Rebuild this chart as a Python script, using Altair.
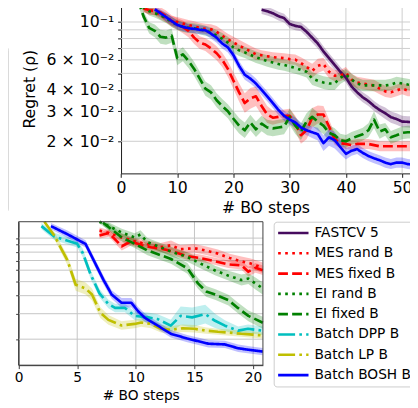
import altair as alt
import pandas as pd

# ---------------- series definitions ----------------
SERIES = ["FASTCV 5", "MES rand B", "MES fixed B", "EI rand B", "EI fixed B",
          "Batch DPP B", "Batch LP B", "Batch BOSH B"]
COLORS = ["#460b5e", "#ff0000", "#ff0000", "#008000", "#008000",
          "#00bfbf", "#bfbf00", "#0000ff"]
DASHES = [[1, 0], [2.7, 4.5], [10, 4.3], [2.7, 4.5], [10, 4.3],
          [17.3, 4.3, 2.7, 4.3], [17.3, 4.3, 2.7, 4.3], [1, 0]]

# ---------------- top panel data (x = BO step) ----------------
TOP_STEPS_FASTCV = list(range(25, 53))
TOP_FASTCV = [0.118, 0.1156, 0.1126, 0.1082, 0.1054, 0.0974, 0.0949, 0.0936, 0.0876, 0.0810,
              0.0748, 0.0673, 0.0614, 0.0560, 0.0511, 0.0472, 0.0419, 0.0387, 0.0362, 0.0344,
              0.0322, 0.0305, 0.0292, 0.0277, 0.0270, 0.0261, 0.0260, 0.0258]
TOP_FASTCV_ERR = [0.06, 0.06, 0.06, 0.06, 0.06, 0.06, 0.06, 0.06, 0.07, 0.07,
                  0.07, 0.07, 0.07, 0.07, 0.07, 0.07, 0.07, 0.07, 0.07, 0.07,
                  0.07, 0.07, 0.08, 0.08, 0.08, 0.08, 0.08, 0.08]

TOP_STEPS_MES = list(range(4, 53))
TOP_MES_RAND = [0.1203, 0.1171, 0.1156, 0.1096, 0.1054, 0.1013, 0.1, 0.098, 0.0961, 0.0943,
                0.0924, 0.0912, 0.0906, 0.0876, 0.0832, 0.0789, 0.0758, 0.0729, 0.070, 0.0673,
                0.0647, 0.0638, 0.0630, 0.0622, 0.0618, 0.0614, 0.0606, 0.0602, 0.0575, 0.0546,
                0.0518, 0.0553, 0.0567, 0.0511, 0.0485, 0.0485, 0.0504, 0.0460, 0.0442, 0.0436,
                0.0430, 0.0425, 0.0407, 0.0392, 0.0387, 0.0397, 0.0407, 0.0397, 0.0397]
TOP_MES_RAND_ERR = [0.05, 0.05, 0.06, 0.06, 0.06, 0.07, 0.07, 0.07, 0.07, 0.07,
                    0.07, 0.07, 0.07, 0.08, 0.08, 0.08, 0.08, 0.08, 0.08, 0.08,
                    0.08, 0.07, 0.07, 0.07, 0.07, 0.07, 0.07, 0.07, 0.08, 0.09,
                    0.10, 0.10, 0.09, 0.09, 0.08, 0.08, 0.08, 0.08, 0.08, 0.08,
                    0.08, 0.08, 0.08, 0.08, 0.08, 0.08, 0.08, 0.08, 0.08]
TOP_MES_FIXED = [0.1203, 0.1171, 0.1164, 0.1141, 0.1082, 0.1013, 0.0974, 0.0936, 0.0888, 0.081,
                 0.0758, 0.0738, 0.070, 0.0656, 0.060, 0.0531, 0.0453, 0.0387, 0.0335, 0.0357,
                 0.0367, 0.0322, 0.0287, 0.0275, 0.0278, 0.0282, 0.0282, 0.0254, 0.0217, 0.0232,
                 0.0275, 0.0287, 0.0287, 0.0244, 0.0206, 0.0195, 0.0193, 0.0190, 0.0193, 0.0193,
                 0.0193, 0.0190, 0.0187, 0.0187, 0.0187, 0.0187, 0.0187, 0.0187, 0.0187]
TOP_MES_FIXED_ERR = [0.05, 0.06, 0.06, 0.07, 0.08, 0.08, 0.08, 0.09, 0.09, 0.09,
                     0.09, 0.09, 0.10, 0.10, 0.10, 0.11, 0.12, 0.13, 0.14, 0.15,
                     0.14, 0.13, 0.12, 0.10, 0.09, 0.09, 0.10, 0.11, 0.12, 0.13,
                     0.14, 0.13, 0.12, 0.10, 0.08, 0.07, 0.07, 0.07, 0.07, 0.07,
                     0.07, 0.07, 0.07, 0.07, 0.07, 0.07, 0.07, 0.07, 0.07]

TOP_STEPS_EI = list(range(3, 53))
TOP_EI_RAND = [0.1318, 0.1219, 0.1156, 0.1126, 0.1096, 0.1054, 0.1, 0.0961, 0.0936, 0.0924,
               0.0919, 0.0906, 0.0888, 0.0871, 0.0832, 0.0799, 0.0758, 0.0710, 0.0682, 0.0664,
               0.0643, 0.0622, 0.0606, 0.0591, 0.0579, 0.0567, 0.0560, 0.0549, 0.0538, 0.0524,
               0.0511, 0.0466, 0.0453, 0.0442, 0.0436, 0.0436, 0.0472, 0.0491, 0.0460, 0.0436,
               0.0425, 0.0425, 0.0425, 0.0425, 0.0425, 0.0430, 0.0442, 0.0436, 0.0430, 0.0425]
TOP_EI_RAND_ERR = [0.05, 0.05, 0.06, 0.06, 0.07, 0.07, 0.07, 0.07, 0.07, 0.07,
                   0.07, 0.07, 0.07, 0.07, 0.08, 0.08, 0.08, 0.08, 0.08, 0.08,
                   0.08, 0.08, 0.08, 0.08, 0.08, 0.08, 0.08, 0.08, 0.08, 0.08,
                   0.08, 0.09, 0.09, 0.09, 0.09, 0.09, 0.09, 0.08, 0.08, 0.08,
                   0.08, 0.08, 0.08, 0.08, 0.08, 0.08, 0.08, 0.08, 0.08, 0.08]
TOP_EI_FIXED = [0.135, 0.108, 0.0924, 0.0888, 0.082, 0.081, 0.0832, 0.0614, 0.0647, 0.0591,
                0.0531, 0.0466, 0.0407, 0.0387, 0.0348, 0.0322, 0.030, 0.0271, 0.0247, 0.0232,
                0.0258, 0.0235, 0.0254, 0.0241, 0.0238, 0.0241, 0.0244, 0.0278, 0.0247, 0.0228,
                0.0261, 0.0278, 0.0261, 0.0247, 0.0224, 0.0217, 0.0203, 0.020, 0.0208, 0.0214,
                0.022, 0.0232, 0.0268, 0.0228, 0.0235, 0.0211, 0.0217, 0.0224, 0.0226, 0.0226]
TOP_EI_FIXED_ERR = [0.06, 0.07, 0.08, 0.09, 0.10, 0.10, 0.10, 0.10, 0.10, 0.10,
                    0.10, 0.10, 0.10, 0.10, 0.10, 0.10, 0.10, 0.11, 0.11, 0.11,
                    0.11, 0.11, 0.11, 0.11, 0.11, 0.11, 0.11, 0.12, 0.12, 0.12,
                    0.12, 0.13, 0.13, 0.12, 0.11, 0.10, 0.09, 0.09, 0.09, 0.09,
                    0.09, 0.10, 0.12, 0.10, 0.09, 0.09, 0.09, 0.09, 0.09, 0.09]

TOP_STEPS_BOSH = list(range(6, 53))
TOP_BOSH = [0.1187, 0.1126, 0.1068, 0.1013, 0.0961, 0.0936, 0.0919, 0.0912, 0.090, 0.0894,
            0.0854, 0.081, 0.0748, 0.071, 0.0639, 0.0553, 0.0491, 0.0466, 0.0436, 0.040,
            0.0367, 0.0335, 0.0305, 0.0282, 0.0268, 0.0258, 0.0241, 0.0232, 0.0226, 0.022,
            0.0195, 0.0211, 0.0203, 0.0185, 0.0169, 0.0176, 0.0180, 0.0171, 0.0164, 0.0159,
            0.0155, 0.0150, 0.0147, 0.0150, 0.0150, 0.0147, 0.0146]
TOP_BOSH_ERR = [0.05, 0.05, 0.06, 0.06, 0.06, 0.06, 0.06, 0.06, 0.06, 0.06,
                0.07, 0.07, 0.07, 0.07, 0.07, 0.07, 0.07, 0.07, 0.07, 0.07,
                0.07, 0.07, 0.07, 0.07, 0.07, 0.07, 0.07, 0.07, 0.08, 0.09,
                0.11, 0.12, 0.12, 0.10, 0.08, 0.07, 0.07, 0.07, 0.07, 0.07,
                0.07, 0.07, 0.07, 0.07, 0.07, 0.07, 0.07]

# ---------------- bottom panel data ----------------
BOT_BOSH_X = [2.76, 4.16, 5.71, 7.24, 7.94, 8.78, 9.62, 10.18, 10.75, 11.87, 12.98, 14.39,
              16.2, 17.6, 18.73, 19.85, 20.83]
BOT_BOSH = [0.121, 0.1064, 0.0911, 0.0514, 0.0407, 0.0357, 0.0357, 0.0313, 0.0282, 0.0248,
            0.0218, 0.0202, 0.0186, 0.0184, 0.0173, 0.0168, 0.0164]
BOT_BOSH_ERR = [0.05, 0.06, 0.06, 0.07, 0.07, 0.08, 0.08, 0.07, 0.07, 0.06, 0.06, 0.06,
                0.06, 0.06, 0.06, 0.06, 0.06]

BOT_DPP_X = [1.95, 3.04, 5.0, 5.48, 6.15, 6.9, 7.66, 8.23, 9.07, 9.9, 11.03, 11.87, 12.98,
             13.82, 14.8, 15.92, 16.76, 17.6, 18.73, 19.57, 20.83]
BOT_DPP = [0.121, 0.1027, 0.0913, 0.0788, 0.0559, 0.0415, 0.035, 0.0329, 0.0329, 0.029,
           0.0283, 0.0275, 0.0248, 0.029, 0.0283, 0.0298, 0.0268, 0.0248, 0.0229, 0.0236, 0.0229]
BOT_DPP_ERR = [0.05, 0.06, 0.06, 0.07, 0.07, 0.07, 0.07, 0.07, 0.07, 0.07, 0.08, 0.08, 0.10,
               0.16, 0.17, 0.16, 0.12, 0.09, 0.07, 0.07, 0.07]

BOT_LP_X = [2.2, 3.04, 4.16, 4.87, 5.71, 6.26, 6.97, 7.66, 8.78, 9.9, 10.46, 11.3, 12.14,
            12.98, 14.0, 15.0, 16.0, 17.0, 18.0, 19.0, 20.0, 20.83]
BOT_LP = [0.134, 0.1043, 0.0703, 0.0476, 0.0449, 0.0407, 0.0305, 0.0272, 0.0249, 0.0255,
          0.0261, 0.0255, 0.0236, 0.0232, 0.0238, 0.0236, 0.0229, 0.0225, 0.0222, 0.0218,
          0.0215, 0.0212]
BOT_LP_ERR = [0.05, 0.06, 0.08, 0.10, 0.10, 0.10, 0.09, 0.08, 0.07, 0.07, 0.07, 0.07, 0.06,
              0.06, 0.06, 0.06, 0.05, 0.05, 0.05, 0.05, 0.05, 0.05]

BOT_MES_RAND_X = [6.9, 7.7, 8.8, 9.9, 11.0, 12.1, 13.0, 13.8, 15.0, 16.0, 17.0, 18.0, 19.0,
                  19.8, 20.83]
BOT_MES_RAND = [0.1128, 0.1085, 0.101, 0.095, 0.0906, 0.0865, 0.0892, 0.0838, 0.0851, 0.0819,
                0.0781, 0.0728, 0.069, 0.0668, 0.0623]
BOT_MES_RAND_ERR = [0.05, 0.05, 0.06, 0.06, 0.06, 0.07, 0.08, 0.07, 0.07, 0.07, 0.07, 0.07,
                    0.08, 0.08, 0.09]

BOT_MES_FIXED_X = [6.9, 7.7, 8.8, 9.6, 10.5, 11.3, 12.2, 13.0, 14.4, 15.5, 16.8, 17.9, 19.0,
                   19.6, 20.2, 20.83]
BOT_MES_FIXED = [0.1043, 0.1085, 0.0878, 0.095, 0.0892, 0.0865, 0.0845, 0.0813, 0.0751, 0.0728,
                 0.069, 0.0658, 0.0648, 0.0586, 0.0623, 0.0599]
BOT_MES_FIXED_ERR = [0.05, 0.06, 0.07, 0.07, 0.06, 0.06, 0.06, 0.06, 0.06, 0.06, 0.06, 0.06,
                     0.07, 0.08, 0.08, 0.08]

BOT_EI_RAND_X = [6.9, 7.7, 8.8, 9.9, 10.4, 11.0, 12.1, 13.0, 14.4, 15.5, 16.8, 17.9, 19.0,
                 19.6, 20.2, 20.83]
BOT_EI_RAND = [0.1318, 0.121, 0.1093, 0.101, 0.106, 0.0935, 0.0865, 0.0806, 0.074, 0.0668,
               0.0595, 0.055, 0.0513, 0.0525, 0.0486, 0.0449]
BOT_EI_RAND_ERR = [0.05, 0.06, 0.06, 0.07, 0.07, 0.07, 0.07, 0.08, 0.08, 0.08, 0.08, 0.08,
                   0.09, 0.09, 0.10, 0.10]

BOT_EI_FIXED_X = [7.2, 7.7, 8.8, 9.9, 11.0, 12.1, 13.0, 14.4, 15.3, 16.0, 16.8, 17.9, 18.7,
                  19.6, 20.83]
BOT_EI_FIXED = [0.1278, 0.119, 0.101, 0.0913, 0.0821, 0.0763, 0.0717, 0.0618, 0.0486, 0.0428,
                0.0406, 0.0372, 0.0329, 0.029, 0.026]
BOT_EI_FIXED_ERR = [0.05, 0.06, 0.07, 0.07, 0.08, 0.08, 0.08, 0.09, 0.09, 0.09, 0.09, 0.09,
                    0.09, 0.09, 0.10]

TOP_X_TICKS = [0, 10, 20, 30, 40, 50]
BOT_X_TICKS = [0, 5, 10, 15, 20]
Y_TICKS = [0.02, 0.03, 0.04, 0.05, 0.06, 0.07, 0.08, 0.09, 0.1]


def band_frame(entries):
    rows = []
    for name, steps, vals, errs in entries:
        for s, v, e in zip(steps, vals, errs):
            rows.append({"series": name, "x": s, "y": v, "lo": v / (1 + e), "hi": v * (1 + e)})
    return pd.DataFrame(rows)


top_df = band_frame([
    ("FASTCV 5", TOP_STEPS_FASTCV, TOP_FASTCV, TOP_FASTCV_ERR),
    ("MES rand B", TOP_STEPS_MES, TOP_MES_RAND, TOP_MES_RAND_ERR),
    ("MES fixed B", TOP_STEPS_MES, TOP_MES_FIXED, TOP_MES_FIXED_ERR),
    ("EI rand B", TOP_STEPS_EI, TOP_EI_RAND, TOP_EI_RAND_ERR),
    ("EI fixed B", TOP_STEPS_EI, TOP_EI_FIXED, TOP_EI_FIXED_ERR),
    ("Batch BOSH B", TOP_STEPS_BOSH, TOP_BOSH, TOP_BOSH_ERR),
])
bot_df = band_frame([
    ("MES rand B", BOT_MES_RAND_X, BOT_MES_RAND, BOT_MES_RAND_ERR),
    ("MES fixed B", BOT_MES_FIXED_X, BOT_MES_FIXED, BOT_MES_FIXED_ERR),
    ("EI rand B", BOT_EI_RAND_X, BOT_EI_RAND, BOT_EI_RAND_ERR),
    ("EI fixed B", BOT_EI_FIXED_X, BOT_EI_FIXED, BOT_EI_FIXED_ERR),
    ("Batch DPP B", BOT_DPP_X, BOT_DPP, BOT_DPP_ERR),
    ("Batch LP B", BOT_LP_X, BOT_LP, BOT_LP_ERR),
    ("Batch BOSH B", BOT_BOSH_X, BOT_BOSH, BOT_BOSH_ERR),
])

W, H = 410, 400

color_scale = alt.Scale(domain=SERIES, range=COLORS)
# band fill scale: same colours, domain listed in reverse so its (hidden) legend is kept apart
fill_scale = alt.Scale(domain=SERIES[::-1], range=COLORS[::-1])
dash_scale = alt.Scale(domain=SERIES, range=DASHES)

legend = alt.Legend(orient="none", legendX=271, legendY=214, title=None,
                    symbolType="M-4,0H4", symbolSize=60, symbolStrokeWidth=2.7,
                    symbolOffset=8.5, labelOffset=14.5, labelFontSize=14,
                    labelColor="black", labelLimit=300, rowPadding=6.7, padding=4.5,
                    fillColor="white", strokeColor="#cccccc", cornerRadius=3)

label_expr = ("round(datum.value*100) == 10 ? '10⁻¹' : "
              "round(datum.value*100) == 6 ? '6 × 10⁻²' : "
              "round(datum.value*100) == 4 ? '4 × 10⁻²' : "
              "round(datum.value*100) == 3 ? '3 × 10⁻²' : "
              "round(datum.value*100) == 2 ? '2 × 10⁻²' : ''")

# ----- top panel geometry -----
TOP_XDOM = [0, 51.4]
TOP_YDOM = [0.01297, 0.1274]
top_xs = alt.Scale(domain=TOP_XDOM, range=[115.3, 410], nice=False, zero=False)
top_ys = alt.Scale(type="log", domain=TOP_YDOM, range=[164.7, -8], nice=False)
top_xa = alt.Axis(orient="bottom", offset=164.7 - H, values=TOP_X_TICKS, grid=False,
                  domainColor="#1a1a1a", tickColor="#1a1a1a", tickSize=4, labelPadding=3,
                  labelFontSize=16, labelColor="black", labelFlush=False, labelOverlap=False,
                  title="# BO steps", titleFontSize=16, titleFontWeight="normal",
                  titleColor="black", titleY=39.5, titleBaseline="alphabetic")
top_ya = alt.Axis(orient="left", offset=-115.3, values=Y_TICKS, grid=False, labelExpr=label_expr,
                  domainColor="#1a1a1a", tickColor="#1a1a1a", tickSize=3.5, labelPadding=4,
                  labelFontSize=16, labelColor="black", labelFlush=False, labelOverlap=False,
                  title="Regret (ρ)", titleFontSize=16, titleFontWeight="normal",
                  titleColor="black", titleX=-88.3, titleAngle=270, titleBaseline="alphabetic")

# ----- bottom panel geometry -----
BOT_XDOM = [0, 20.84]
BOT_YDOM = [0.01322, 0.1298]
bot_xs = alt.Scale(domain=BOT_XDOM, range=[10.8, 260], nice=False, zero=False)
bot_ys = alt.Scale(type="log", domain=BOT_YDOM, range=[360.3, 214], nice=False, clamp=True)
bot_xa = alt.Axis(orient="bottom", offset=360.3 - H, values=BOT_X_TICKS, grid=False,
                  domainColor="#3c3c3c", tickColor="#3c3c3c", tickSize=3.5, labelPadding=2,
                  labelFontSize=14, labelColor="black", labelFlush=False, labelOverlap=False,
                  title="# BO steps", titleFontSize=14, titleFontWeight="normal",
                  titleColor="black", titleY=34.7, titleBaseline="alphabetic")
bot_ya = alt.Axis(orient="left", offset=-10.8, values=Y_TICKS, grid=False, labels=False,
                  domainColor="#3c3c3c", tickColor="#3c3c3c", tickSize=3, title="")


def make_panel(df, xticks, xdom, ydom, xgrid_end, xs, ys, xa, ya, grid_color, box_color=None):
    gv = pd.DataFrame({"x": [t for t in xticks if t > 0]})
    gv["y"] = ydom[0]
    gv["y2"] = ydom[1]
    gh = pd.DataFrame({"y": Y_TICKS})
    gh["x"] = xdom[0]
    gh["x2"] = xgrid_end
    ex = alt.X("x:Q", scale=xs, axis=xa)
    ey = alt.Y("y:Q", scale=ys, axis=ya)
    layers = [
        alt.Chart(gv).mark_rule(color=grid_color, strokeWidth=1).encode(
            x=ex, y=ey, y2=alt.Y2("y2")),
        alt.Chart(gh).mark_rule(color=grid_color, strokeWidth=1).encode(
            x=ex, x2=alt.X2("x2"), y=ey),
        alt.Chart(df).mark_area(fillOpacity=0.25).encode(
            x=ex, y=alt.Y("lo:Q", scale=ys, axis=ya), y2=alt.Y2("hi"),
            fill=alt.Fill("series:N", scale=fill_scale, legend=None)),
        alt.Chart(df).mark_line(strokeWidth=2.7, strokeJoin="round").encode(
            x=ex, y=ey,
            color=alt.Color("series:N", scale=color_scale, legend=legend),
            strokeDash=alt.StrokeDash("series:N", scale=dash_scale, legend=legend)),
    ]
    if box_color:
        bx = pd.DataFrame({"x": [xdom[0]], "x2": [xdom[1]], "y": [ydom[0]], "y2": [ydom[1]]})
        layers.append(alt.Chart(bx).mark_rect(filled=False, stroke=box_color, strokeWidth=1).encode(
            x=ex, x2=alt.X2("x2"), y=ey, y2=alt.Y2("y2")))
    return alt.layer(*layers)


top_panel = make_panel(top_df, TOP_X_TICKS, TOP_XDOM, TOP_YDOM, 60, top_xs, top_ys,
                       top_xa, top_ya, "#cdcdcd")
bot_panel = make_panel(bot_df, BOT_X_TICKS, BOT_XDOM, BOT_YDOM, BOT_XDOM[1], bot_xs, bot_ys,
                       bot_xa, bot_ya, "#c4c4c4", box_color="#3c3c3c")

# partial neighbouring legend frame on the far left (decoration)
deco = alt.Chart(pd.DataFrame({"k": [0]})).mark_rect(
    fill="white", stroke="#d9d9d9", strokeWidth=1, cornerRadius=4).encode(
    x=alt.value(-20), x2=alt.value(0.5), y=alt.value(35), y2=alt.value(205))

chart = alt.layer(deco, top_panel, bot_panel).resolve_scale(
    x="independent", y="independent"
).properties(
    width=W, height=H, padding=0, autosize=alt.AutoSizeParams(type="none")
).configure(font="DejaVu Sans").configure_view(stroke="transparent")

chart.save("out.html", embed_options={"renderer": "svg", "actions": False})
